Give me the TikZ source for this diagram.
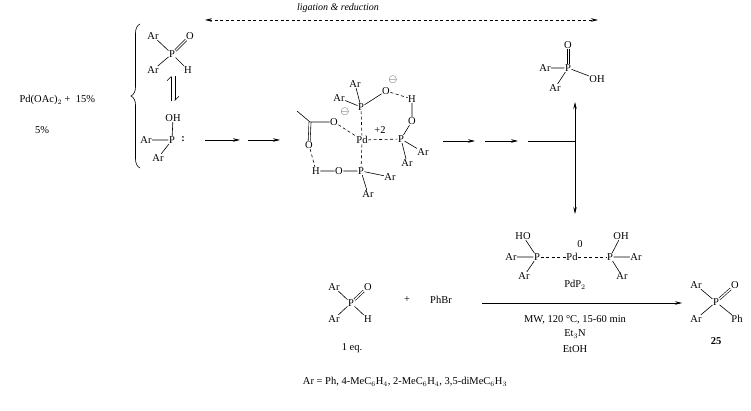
\documentclass[tikz,border=0pt]{standalone}
\usepackage{fontspec}
\setmainfont{Liberation Serif}
\usetikzlibrary{arrows.meta,decorations.pathreplacing}
\begin{document}
\begin{tikzpicture}[x=1pt,y=-1pt,
  t/.style={inner sep=0.4pt,font=\fontsize{10.5}{12}\selectfont},
  bd/.style={line width=0.6pt},
  db/.style={line width=0.6pt,dash pattern=on 3pt off 2.5pt},
  ar/.style={line width=0.7pt,-{Stealth[length=7pt,width=3.5pt]}}]
\useasboundingbox (0,0) rectangle (751,411);
% top dashed arrow
\coordinate (dl) at (205,20); \coordinate (dr) at (598,20);
\draw[db,{Stealth[length=7pt,width=3.5pt]}-{Stealth[length=7pt,width=3.5pt]}] (dl) -- (dr);
\node[t,font=\fontsize{10}{12}\itshape] (lig) at (338,8) {ligation \& reduction};
% left
\node[t,anchor=west] (pd) at (19,100) {Pd(OAc)$_2$\ +\ \ 15\%};
\node[t] (five) at (42,130) {5\%};
\coordinate (bt) at (140,24); \coordinate (bb) at (140,168);
\draw[bd,decorate,decoration={brace,amplitude=9pt}] (bb) -- (bt);
% tautomer top
\node[t] (a1) at (153,36) {Ar}; \node[t] (p1) at (172,54) {P}; \node[t] (o1) at (190,36) {O};
\node[t] (a2) at (153,70) {Ar}; \node[t] (h1) at (188,70) {H};
\draw[bd] (a1)--(p1) (a2)--(p1) (h1)--(p1);
\draw[bd,double,double distance=1.4pt] (p1)--(o1);
\coordinate (e1) at (171,76); \coordinate (e2) at (171,101);
\coordinate (e3) at (175,76); \coordinate (e4) at (175,101);
\draw[bd,-{Straight Barb[left,length=4pt]}] (e2)--(e1);
\draw[bd,-{Straight Barb[left,length=4pt]}] (e3)--(e4);
% tautomer bottom
\node[t] (oh2) at (173,118) {OH}; \node[t] (p2) at (172,140) {P}; \node[t] (a3) at (146,140) {Ar};
\node[t] (col) at (183,139) {\textbf{:}}; \node[t] (a4) at (158,158) {Ar};
\draw[bd] (oh2)--(p2) (a3)--(p2) (a4)--(p2);
% arrows
\coordinate (r1) at (205,140); \coordinate (r2) at (240,140);
\coordinate (r3) at (248,140); \coordinate (r4) at (280,140);
\draw[ar] (r1)--(r2); \draw[ar] (r3)--(r4);
% complex
\node[t] (ca1) at (355,84) {Ar}; \node[t] (ca2) at (339,98) {Ar}; \node[t] (cp1) at (361,107) {P};
\node[t] (co1) at (386,91) {O}; \node[t] (m1) at (393,80) {$\ominus$};
\node[t] (ch1) at (412,99) {H}; \node[t] (co2) at (412,121) {O};
\node[t] (cp2) at (401,139) {P}; \node[t] (ca3) at (423,152) {Ar}; \node[t] (ca4) at (407,163) {Ar};
\node[t] (pdc) at (362,140) {Pd}; \node[t] (plus) at (380,130) {+2};
\node[t] (co3) at (334,122) {O}; \node[t] (m2) at (345,112) {$\ominus$};
\coordinate (cc) at (310,122); \coordinate (me) at (297,111);
\node[t] (co4) at (309,145) {O};
\node[t] (ch2) at (316,171) {H}; \node[t] (co5) at (339,171) {O}; \node[t] (cp3) at (361,171) {P};
\node[t] (ca5) at (390,177) {Ar}; \node[t] (ca6) at (368,194) {Ar};
\draw[bd] (ca1)--(cp1) (ca2)--(cp1) (cp1)--(co1) (ch1)--(co2) (co2)--(cp2) (cp2)--(ca3) (cp2)--(ca4)
  (me)--(cc)--(co3) (ch2)--(co5)--(cp3)--(ca5) (cp3)--(ca6);
\draw[bd,double,double distance=1.4pt] (cc)--(co4);
\draw[db] (co1)--(ch1) (co3)--(pdc) (cp1)--(pdc) (pdc)--(cp2) (pdc)--(cp3) (co4)--(ch2);
% arrows right
\coordinate (s1) at (443,141); \coordinate (s2) at (475,141);
\coordinate (s3) at (485,141); \coordinate (s4) at (518,141);
\coordinate (s5) at (528,141); \coordinate (jn) at (575,141);
\coordinate (up) at (575,102); \coordinate (dn) at (575,214);
\draw[ar] (s1)--(s2); \draw[ar] (s3)--(s4);
\draw[bd] (s5)--(jn); \draw[ar] (jn)--(up); \draw[ar] (jn)--(dn);
% phosphinic acid
\node[t] (qo) at (568,45) {O}; \node[t] (qp) at (568,68) {P}; \node[t] (qa1) at (545,68) {Ar};
\node[t] (qoh) at (597,79) {OH}; \node[t] (qa2) at (555,88) {Ar};
\draw[bd] ([xshift=-1.2pt]qo.south) -- ([xshift=-1.2pt]qp.north);
\draw[bd] ([xshift=1.2pt]qo.south) -- ([xshift=1.2pt]qp.north);
\draw[bd] (qa1)--(qp) (qp)--(qoh) (qp)--(qa2);
% PdP2
\node[t] (ho) at (523,236) {HO}; \node[t] (lp) at (537,257) {P}; \node[t] (la) at (511,257) {Ar};
\node[t] (la2) at (524,276) {Ar}; \node[t] (pd0) at (572,257) {Pd}; \node[t] (zero) at (580,244) {0};
\node[t] (rp) at (610,257) {P}; \node[t] (roh) at (621,236) {OH}; \node[t] (ra) at (636,257) {Ar};
\node[t] (ra2) at (622,276) {Ar};
\draw[bd] (ho)--(lp) (la)--(lp) (la2)--(lp) (roh)--(rp) (rp)--(ra) (rp)--(ra2);
\draw[db] (lp)--(pd0)--(rp);
\node[t] (pdp2) at (575,285) {PdP$_2$};
% main reaction arrow
\coordinate (m0) at (482,303); \coordinate (m9) at (682,303);
\draw[ar] (m0)--(m9);
\node[t] (c1) at (575,320) {MW, 120 °C, 15-60 min};
\node[t] (c2) at (575,334) {Et$_3$N};
\node[t] (c3) at (575,349) {EtOH};
% reactant
\node[t] (ba1) at (334,287) {Ar}; \node[t] (bp) at (351,303) {P}; \node[t] (bo) at (368,287) {O};
\node[t] (ba2) at (334,319) {Ar}; \node[t] (bh) at (368,319) {H};
\draw[bd] (ba1)--(bp) (ba2)--(bp) (bp)--(bh);
\draw[bd,double,double distance=1.4pt] (bp)--(bo);
\node[t] (eq) at (352,348) {1 eq.};
\node[t] (pl) at (407,300) {+}; \node[t] (phbr) at (441,300) {PhBr};
% product
\node[t] (pa1) at (696,285) {Ar}; \node[t] (pp) at (716,302) {P}; \node[t] (po) at (735,285) {O};
\node[t] (pa2) at (696,319) {Ar}; \node[t] (pph) at (737,319) {Ph};
\draw[bd] (pa1)--(pp) (pa2)--(pp) (pp)--(pph);
\draw[bd,double,double distance=1.4pt] (pp)--(po);
\node[t,font=\fontsize{10.5}{12}\bfseries] (n25) at (716,341) {25};
\node[t] (arlist) at (405,382) {Ar = Ph, 4-MeC$_6$H$_4$, 2-MeC$_6$H$_4$, 3,5-diMeC$_6$H$_3$};
\end{tikzpicture}
\end{document}
